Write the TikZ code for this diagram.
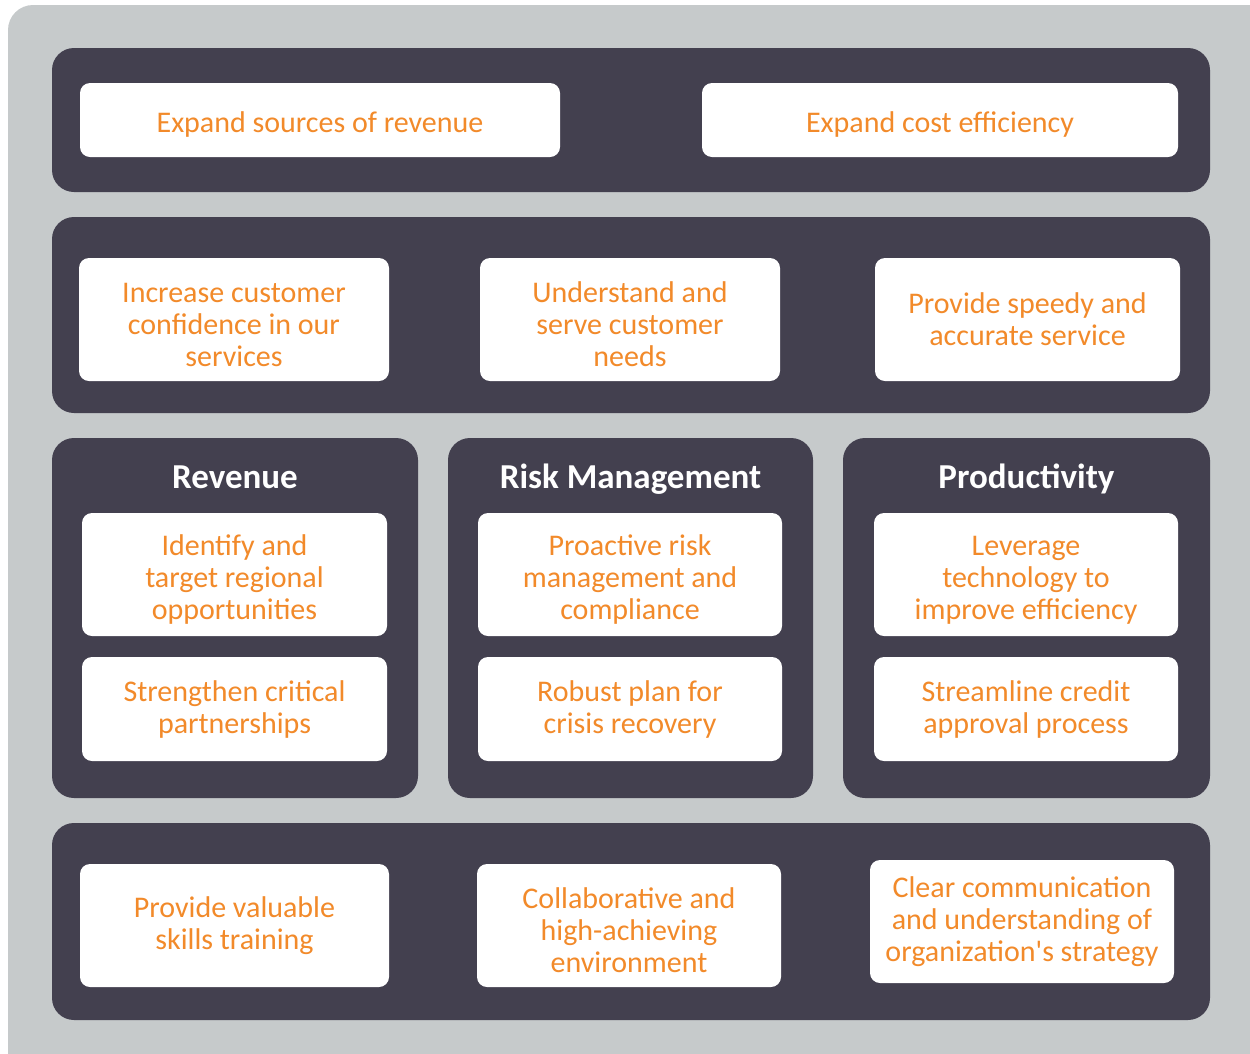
\documentclass[tikz,border=0pt]{standalone}
\usepackage{fontspec}
\setmainfont{Carlito}
\usetikzlibrary{positioning}
\definecolor{backgray}{HTML}{C6CACB}
\definecolor{panelgray}{HTML}{43404F}
\definecolor{goalorange}{HTML}{F28A2A}
\newcommand{\goalstrut}{\rule{0pt}{30pt}}
\tikzset{
  panel/.style={fill=panelgray, rounded corners=22, inner sep=0pt},
  goal/.style={fill=white, rounded corners=10, inner sep=0pt, align=center,
    text=goalorange, font=\fontsize{30}{32}\selectfont},
  heading/.style={text=white, inner sep=0pt, text height=26pt, text depth=8pt,
    font=\bfseries\fontsize{35}{38}\selectfont},
}
\begin{document}
\begin{tikzpicture}[x=1pt,y=-1pt]

        \useasboundingbox (0,0) rectangle (1250,1053);
        \fill[backgray, rounded corners=25] (8,5) rectangle (1290,1090);

        % financial
        \node[panel,minimum width=1158,minimum height=144] (finance) at (631,120) {};
        \node[goal,minimum width=480,minimum height=74] (revenue) at (320,120) {\goalstrut Expand sources of revenue};
        \node[goal,minimum width=476,minimum height=74] (cost) at (940,120) {\goalstrut Expand cost efficiency};

        % customer
        \node[panel,minimum width=1158,minimum height=196] (customer) at (631,315) {};
        \node[goal,minimum width=310,minimum height=123] (confidence) at (234,319.5) {\goalstrut Increase customer\\confidence in our\\services};
        \node[goal,minimum width=300,minimum height=123] (needs) at (630,319.5) {\goalstrut Understand and\\serve customer\\needs};
        \node[goal,minimum width=305,minimum height=123] (speedy) at (1027.5,319.5) {Provide speedy and\\accurate service};

        % internal processes
        \node[panel,minimum width=366,minimum height=360] (revpanel) at (235,618) {};
        \node[panel,minimum width=365,minimum height=360] (riskpanel) at (630.5,618) {};
        \node[panel,minimum width=367,minimum height=360] (prodpanel) at (1026.5,618) {};

        \node[heading] (revtitle) at (235,479) {Revenue};
        \node[heading] (risktitle) at (630.5,479) {Risk Management};
        \node[heading] (prodtitle) at (1026.5,479) {Productivity};

        \node[goal,minimum width=305,minimum height=123] (regional) at (234.5,574.5) {\goalstrut Identify and\\target regional\\opportunities};
        \node[goal,minimum width=305,minimum height=104] (partners) at (234.5,709) {Strengthen critical\\partnerships};
        \node[goal,minimum width=304,minimum height=123] (proactive) at (630,574.5) {\goalstrut Proactive risk\\management and\\compliance};
        \node[goal,minimum width=304,minimum height=104] (crisis) at (630,709) {Robust plan for\\crisis recovery};
        \node[goal,minimum width=304,minimum height=123] (technology) at (1026,574.5) {\goalstrut Leverage\\technology to\\improve efficiency};
        \node[goal,minimum width=304,minimum height=104] (credit) at (1026,709) {Streamline credit\\approval process};

        % learning and growth
        \node[panel,minimum width=1158,minimum height=197] (learning) at (631,921.5) {};
        \node[goal,minimum width=309,minimum height=123] (skills) at (234.5,925.5) {Provide valuable\\skills training};
        \node[goal,minimum width=304,minimum height=123] (collab) at (629,925.5) {\goalstrut Collaborative and\\high-achieving\\environment};
        \node[goal,minimum width=304,minimum height=123] (strategy) at (1022,921.5) {Clear communication\\and understanding of\\organization\textquotesingle s strategy};

\end{tikzpicture}
\end{document}
